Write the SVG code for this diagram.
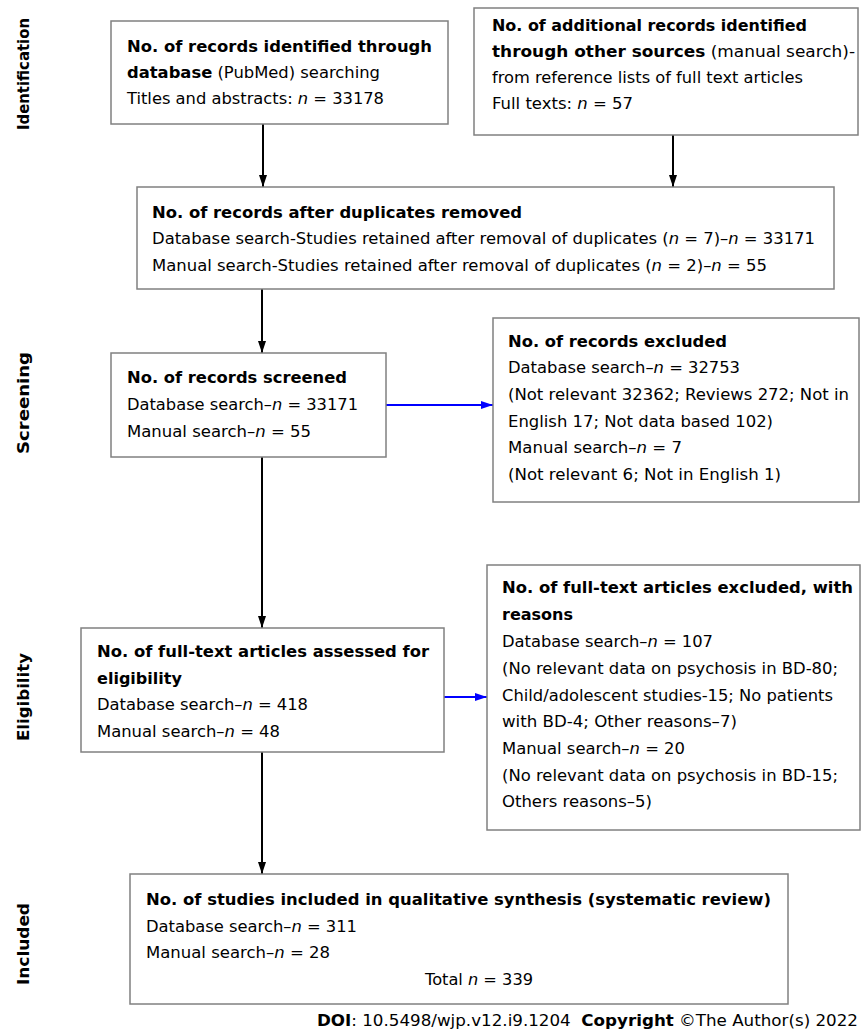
<svg xmlns="http://www.w3.org/2000/svg" width="861" height="1032" viewBox="0 0 861 1032">
<style>
  .box { fill: #ffffff; stroke: #808080; stroke-width: 1.5; }
  .t { font-family: "DejaVu Sans", Verdana, sans-serif; font-size: 16px; fill: #000; }
  .b { font-weight: bold; }
  .i { font-style: italic; }
  .side { font-family: "DejaVu Sans", Verdana, sans-serif; font-size: 16px; font-weight: bold; fill: #000; }
  .conn { stroke: #000; stroke-width: 2; fill: none; }
  .blue { stroke: #0000ff; stroke-width: 2; fill: none; }
</style>
<defs>
  <marker id="ah" viewBox="0 0 8 12" refX="4" refY="12" markerWidth="8" markerHeight="12" markerUnits="userSpaceOnUse" orient="0">
    <path d="M0,0 L8,0 L4,12 z" fill="#000"/>
  </marker>
  <marker id="ahb" viewBox="0 0 12 8" refX="12" refY="4" markerWidth="12" markerHeight="8" markerUnits="userSpaceOnUse" orient="0">
    <path d="M0,0 L12,4 L0,8 z" fill="#0000ff"/>
  </marker>
</defs>
<rect width="861" height="1032" fill="#ffffff"/>

<g id="side-labels">
  <text class="side" text-anchor="middle" transform="translate(29,74) rotate(-90)" textLength="112" lengthAdjust="spacingAndGlyphs">Identification</text>
  <text class="side" text-anchor="middle" transform="translate(29,403) rotate(-90)" textLength="102" lengthAdjust="spacingAndGlyphs">Screening</text>
  <text class="side" text-anchor="middle" transform="translate(29,697) rotate(-90)" textLength="88" lengthAdjust="spacingAndGlyphs">Eligibility</text>
  <text class="side" text-anchor="middle" transform="translate(29,944) rotate(-90)" textLength="82" lengthAdjust="spacingAndGlyphs">Included</text>
</g>

<g id="connectors">
  <line class="conn" x1="263" y1="124" x2="263" y2="187" marker-end="url(#ah)"/>
  <line class="conn" x1="673" y1="135" x2="673" y2="187" marker-end="url(#ah)"/>
  <line class="conn" x1="262" y1="289" x2="262" y2="353" marker-end="url(#ah)"/>
  <line class="conn" x1="262" y1="457" x2="262" y2="628" marker-end="url(#ah)"/>
  <line class="conn" x1="262" y1="752" x2="262" y2="874" marker-end="url(#ah)"/>
  <line class="blue" x1="386" y1="405" x2="493" y2="405" marker-end="url(#ahb)"/>
  <line class="blue" x1="444" y1="697" x2="487" y2="697" marker-end="url(#ahb)"/>
</g>

<g id="node-db">
  <rect class="box" x="111" y="21" width="337" height="103"/>
  <text class="t b" x="127" y="52" textLength="305" lengthAdjust="spacingAndGlyphs">No. of records identified through</text>
  <text class="t" x="127" y="78" textLength="253" lengthAdjust="spacingAndGlyphs"><tspan class="b">database</tspan> (PubMed) searching</text>
  <text class="t" x="127" y="104" textLength="257" lengthAdjust="spacingAndGlyphs">Titles and abstracts: <tspan class="i">n</tspan> = 33178</text>
</g>

<g id="node-other">
  <rect class="box" x="474" y="8" width="384" height="127"/>
  <text class="t b" x="492" y="31" textLength="315" lengthAdjust="spacingAndGlyphs">No. of additional records identified</text>
  <text class="t" x="492" y="57" textLength="363" lengthAdjust="spacingAndGlyphs"><tspan class="b">through other sources</tspan> (manual search)-</text>
  <text class="t" x="492" y="83" textLength="311" lengthAdjust="spacingAndGlyphs">from reference lists of full text articles</text>
  <text class="t" x="492" y="109" textLength="141" lengthAdjust="spacingAndGlyphs">Full texts: <tspan class="i">n</tspan> = 57</text>
</g>

<g id="node-dedup">
  <rect class="box" x="137" y="187" width="697" height="102"/>
  <text class="t b" x="152" y="218" textLength="370" lengthAdjust="spacingAndGlyphs">No. of records after duplicates removed</text>
  <text class="t" x="152" y="244" textLength="663" lengthAdjust="spacingAndGlyphs">Database search-Studies retained after removal of duplicates (<tspan class="i">n</tspan> = 7)–<tspan class="i">n</tspan> = 33171</text>
  <text class="t" x="152" y="271" textLength="615" lengthAdjust="spacingAndGlyphs">Manual search-Studies retained after removal of duplicates (<tspan class="i">n</tspan> = 2)–<tspan class="i">n</tspan> = 55</text>
</g>

<g id="node-screened">
  <rect class="box" x="111" y="353" width="275" height="104"/>
  <text class="t b" x="127" y="383" textLength="220" lengthAdjust="spacingAndGlyphs">No. of records screened</text>
  <text class="t" x="127" y="410" textLength="231" lengthAdjust="spacingAndGlyphs">Database search–<tspan class="i">n</tspan> = 33171</text>
  <text class="t" x="127" y="437" textLength="184" lengthAdjust="spacingAndGlyphs">Manual search–<tspan class="i">n</tspan> = 55</text>
</g>

<g id="node-excluded">
  <rect class="box" x="493" y="318" width="366" height="184"/>
  <text class="t b" x="508" y="347" textLength="219" lengthAdjust="spacingAndGlyphs">No. of records excluded</text>
  <text class="t" x="508" y="373" textLength="232" lengthAdjust="spacingAndGlyphs">Database search–<tspan class="i">n</tspan> = 32753</text>
  <text class="t" x="508" y="400" textLength="341" lengthAdjust="spacingAndGlyphs">(Not relevant 32362; Reviews 272; Not in</text>
  <text class="t" x="508" y="427" textLength="265" lengthAdjust="spacingAndGlyphs">English 17; Not data based 102)</text>
  <text class="t" x="508" y="453" textLength="174" lengthAdjust="spacingAndGlyphs">Manual search–<tspan class="i">n</tspan> = 7</text>
  <text class="t" x="508" y="480" textLength="273" lengthAdjust="spacingAndGlyphs">(Not relevant 6; Not in English 1)</text>
</g>

<g id="node-assessed">
  <rect class="box" x="81" y="628" width="363" height="124"/>
  <text class="t b" x="97" y="657" textLength="332" lengthAdjust="spacingAndGlyphs">No. of full-text articles assessed for</text>
  <text class="t b" x="97" y="684" textLength="85" lengthAdjust="spacingAndGlyphs">eligibility</text>
  <text class="t" x="97" y="710" textLength="211" lengthAdjust="spacingAndGlyphs">Database search–<tspan class="i">n</tspan> = 418</text>
  <text class="t" x="97" y="737" textLength="183" lengthAdjust="spacingAndGlyphs">Manual search–<tspan class="i">n</tspan> = 48</text>
</g>

<g id="node-ft-excluded">
  <rect class="box" x="487" y="565" width="373" height="265"/>
  <text class="t b" x="502" y="593" textLength="351" lengthAdjust="spacingAndGlyphs">No. of full-text articles excluded, with</text>
  <text class="t b" x="502" y="620" textLength="71" lengthAdjust="spacingAndGlyphs">reasons</text>
  <text class="t" x="502" y="647" textLength="211" lengthAdjust="spacingAndGlyphs">Database search–<tspan class="i">n</tspan> = 107</text>
  <text class="t" x="502" y="674" textLength="336" lengthAdjust="spacingAndGlyphs">(No relevant data on psychosis in BD-80;</text>
  <text class="t" x="502" y="701" textLength="331" lengthAdjust="spacingAndGlyphs">Child/adolescent studies-15; No patients</text>
  <text class="t" x="502" y="727" textLength="235" lengthAdjust="spacingAndGlyphs">with BD-4; Other reasons–7)</text>
  <text class="t" x="502" y="754" textLength="183" lengthAdjust="spacingAndGlyphs">Manual search–<tspan class="i">n</tspan> = 20</text>
  <text class="t" x="502" y="781" textLength="336" lengthAdjust="spacingAndGlyphs">(No relevant data on psychosis in BD-15;</text>
  <text class="t" x="502" y="807" textLength="150" lengthAdjust="spacingAndGlyphs">Others reasons–5)</text>
</g>

<g id="node-included">
  <rect class="box" x="130" y="874" width="658" height="130"/>
  <text class="t b" x="146" y="905" textLength="625" lengthAdjust="spacingAndGlyphs">No. of studies included in qualitative synthesis (systematic review)</text>
  <text class="t" x="146" y="932" textLength="211" lengthAdjust="spacingAndGlyphs">Database search–<tspan class="i">n</tspan> = 311</text>
  <text class="t" x="146" y="958" textLength="184" lengthAdjust="spacingAndGlyphs">Manual search–<tspan class="i">n</tspan> = 28</text>
  <text class="t" x="425" y="985" textLength="108" lengthAdjust="spacingAndGlyphs">Total <tspan class="i">n</tspan> = 339</text>
</g>

<g id="footer">
  <text class="t" x="317" y="1026" fill="#222" textLength="541" lengthAdjust="spacingAndGlyphs"><tspan class="b">DOI</tspan>: 10.5498/wjp.v12.i9.1204 &#160;<tspan class="b">Copyright</tspan> ©The Author(s) 2022</text>
</g>
</svg>
